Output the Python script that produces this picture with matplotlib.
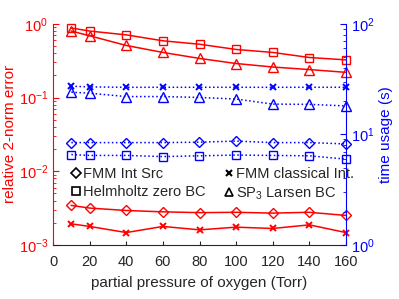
import matplotlib
matplotlib.use("Agg")
import matplotlib.pyplot as plt
from matplotlib.lines import Line2D
import numpy as np

plt.rcParams['font.family'] = ['Liberation Sans', 'DejaVu Sans']
plt.rcParams['mathtext.fontset'] = 'custom'
plt.rcParams['mathtext.rm'] = 'Liberation Sans'
plt.rcParams['mathtext.it'] = 'Liberation Sans'

pressure = [10, 20, 40, 60, 80, 100, 120, 140, 160]

# relative 2-norm error (left axis)
err_helmholtz = [0.88, 0.80, 0.71, 0.59, 0.53, 0.45, 0.41, 0.35, 0.325]
err_sp3 = [0.80, 0.69, 0.51, 0.41, 0.34, 0.29, 0.26, 0.24, 0.22]
err_fmm_int = [0.00343, 0.00316, 0.00293, 0.00281, 0.00274, 0.00277, 0.00270, 0.00277, 0.00251]
err_fmm_cls = [0.00193, 0.00178, 0.00147, 0.00178, 0.00160, 0.00174, 0.00167, 0.00187, 0.00147]

# time usage (right axis)
t_fmm_cls = [27.3, 26.9, 26.7, 26.7, 26.7, 26.7, 26.7, 26.7, 26.7]
t_sp3 = [24.1, 23.6, 22.0, 22.0, 21.6, 20.9, 18.8, 18.7, 18.1]
t_fmm_int = [8.43, 8.43, 8.43, 8.43, 8.5, 8.7, 8.43, 8.43, 8.2]
t_helmholtz = [6.57, 6.45, 6.45, 6.3, 6.4, 6.5, 6.45, 6.4, 5.97]

legend_labels = ['FMM Int Src', 'FMM classical Int.', 'Helmholtz zero BC', r'SP$_3$ Larsen BC']

red = '#ff0000'
blue = '#0000ff'

fig = plt.figure(figsize=(3.99, 2.99), dpi=100)
ax = fig.add_axes([0.133, 0.181, 0.734, 0.739])
ax2 = ax.twinx()

ms = 6
mew = 1.0
lw = 1.1
ax.plot(pressure, err_helmholtz, '-', color=red, marker='s', mfc='none', ms=ms, mew=mew, lw=lw, clip_on=False)
ax.plot(pressure, err_sp3, '-', color=red, marker='^', mfc='none', ms=ms+1, mew=mew, lw=lw, clip_on=False)
ax.plot(pressure, err_fmm_int, '-', color=red, marker='D', mfc='none', ms=ms-0.5, mew=mew, lw=lw, clip_on=False)
ax.plot(pressure, err_fmm_cls, '-', color=red, marker='x', ms=ms-1.5, mew=mew+0.4, lw=lw, clip_on=False)

ax2.plot(pressure, t_fmm_cls, ':', color=blue, marker='x', ms=ms-1.5, mew=mew+0.4, lw=lw, clip_on=False)
ax2.plot(pressure, t_sp3, ':', color=blue, marker='^', mfc='none', ms=ms+1, mew=mew, lw=lw, clip_on=False)
ax2.plot(pressure, t_fmm_int, ':', color=blue, marker='D', mfc='none', ms=ms-0.5, mew=mew, lw=lw, clip_on=False)
ax2.plot(pressure, t_helmholtz, ':', color=blue, marker='s', mfc='none', ms=ms, mew=mew, lw=lw, clip_on=False)

ax.set_yscale('log')
ax.set_ylim(1e-3, 1)
ax2.set_yscale('log')
ax2.set_ylim(1, 100)
ax.set_xlim(0, 160)
ax.set_xticks(range(0, 161, 20))

fs = 10.5
dark = '#262626'
ax.tick_params(axis='x', direction='in', colors=dark, labelsize=fs, length=3, pad=7)
ax.tick_params(axis='y', which='both', direction='in', colors=red, labelsize=fs)
ax.tick_params(axis='y', which='major', length=4)
ax.tick_params(axis='y', which='minor', length=2)
ax2.tick_params(axis='y', which='both', direction='in', colors=blue, labelsize=fs)
ax2.tick_params(axis='y', which='major', length=4, pad=4)
ax2.tick_params(axis='y', which='minor', length=2)

for a in (ax, ax2):
    a.spines['top'].set_visible(False)
ax.spines['left'].set_color(red)
ax.spines['bottom'].set_color(dark)
ax2.spines['right'].set_color(blue)
ax2.spines['left'].set_visible(False)
ax2.spines['bottom'].set_visible(False)
ax.spines['right'].set_visible(False)

ax.set_xlabel('partial pressure of oxygen (Torr)', fontsize=fs+0.5, color=dark, labelpad=5)
ax.set_ylabel('relative 2-norm error', fontsize=fs+0.5, color=red, labelpad=1)
ax2.set_ylabel('time usage (s)', fontsize=fs+0.5, color=blue, labelpad=3)

h_diamond = Line2D([], [], ls='none', marker='D', mfc='none', mec='k', ms=ms-0.5, mew=1.2)
h_x = Line2D([], [], ls='none', marker='x', mec='k', ms=ms-2, mew=1.5)
h_square = Line2D([], [], ls='none', marker='s', mfc='none', mec='k', ms=ms-0.5, mew=1.2)
h_tri = Line2D([], [], ls='none', marker='^', mfc='none', mec='k', ms=ms, mew=1.2)
# column-major fill: col1 = diamond, square ; col2 = x, triangle
handles = [h_diamond, h_square, h_x, h_tri]
labels = [legend_labels[0], legend_labels[2], legend_labels[1], legend_labels[3]]
leg = ax2.legend(handles, labels, ncol=2, frameon=False, fontsize=fs,
                 loc='center', bbox_to_anchor=(0.545, 0.275), handlelength=0.6,
                 handletextpad=0.2, columnspacing=1.3, labelspacing=0.3,
                 borderaxespad=0)
for t in leg.get_texts():
    t.set_color(dark)

fig.savefig('out.png', dpi=100)
